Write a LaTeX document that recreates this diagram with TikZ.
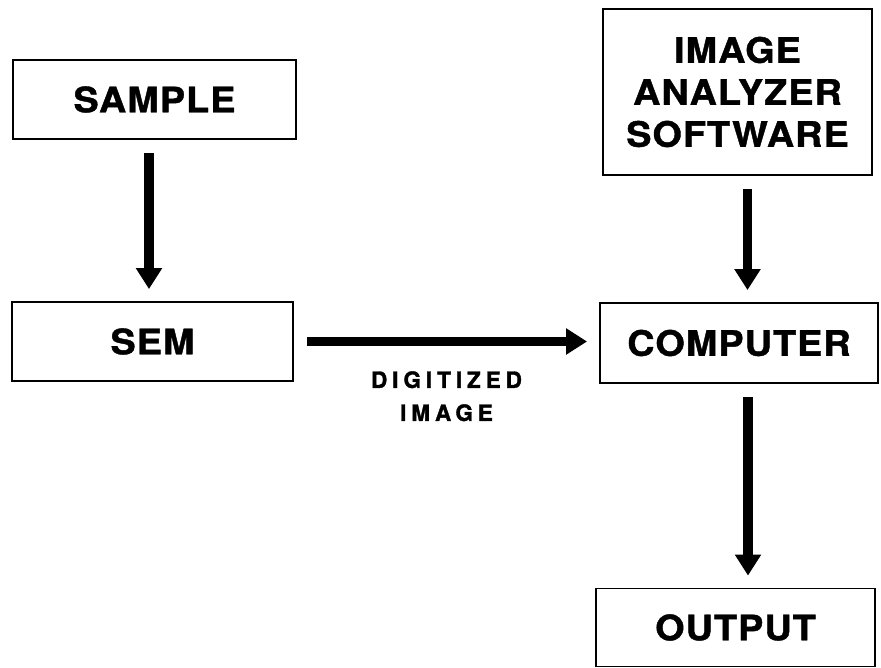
\documentclass[tikz,border=0pt]{standalone}
\usepackage{fontspec}
\usetikzlibrary{arrows.meta}
\newfontfamily\boxfont[FakeStretch=1.08,LetterSpace=3,FakeBold=1.2]{TeX Gyre Heros}
\newfontfamily\lblfont[LetterSpace=22,FakeBold=1.5]{TeX Gyre Heros}
\begin{document}
\begin{tikzpicture}[x=1pt,y=-1pt,
  box/.style={draw,line width=1.8pt,rectangle,inner sep=0pt,align=center,
    font=\boxfont\bfseries\fontsize{35}{42}\selectfont},
  arr/.style={line width=9.5pt,-{Triangle[width=25pt,length=21pt]},
    shorten <=13pt,shorten >=12pt},
  lbl/.style={inner sep=0pt,align=center,
    font=\lblfont\bfseries\fontsize{22.5}{33}\selectfont}]
\useasboundingbox (0,0) rectangle (881,668);
\node[box,minimum width=283pt,minimum height=79pt] (sample) at (154.5,99.5) {SAMPLE};
\node[box,minimum width=281pt,minimum height=79pt] (sem) at (152.5,341.5) {SEM};
\node[box,minimum width=269pt,minimum height=166pt] (soft) at (737.5,92) {IMAGE\\ANALYZER\\SOFTWARE};
\node[box,minimum width=278pt,minimum height=80pt] (comp) at (739,343) {COMPUTER};
\node[box,minimum width=279pt,minimum height=78pt] (out) at (735.5,627.5) {OUTPUT};
\draw[arr] ([xshift=-5.5pt]sample.south) -- ([xshift=-5.5pt]sample.south |- sem.north);
\draw[arr] (sem.east) -- node[lbl,below=25pt] (dig) {DIGITIZED\\IMAGE} (comp.west |- sem.east);
\draw[arr] ([xshift=10pt]soft.south) -- ([xshift=10pt]soft.south |- comp.north);
\draw[arr] ([xshift=9pt]comp.south) -- ([xshift=9pt]comp.south |- out.north);
\end{tikzpicture}
\end{document}
